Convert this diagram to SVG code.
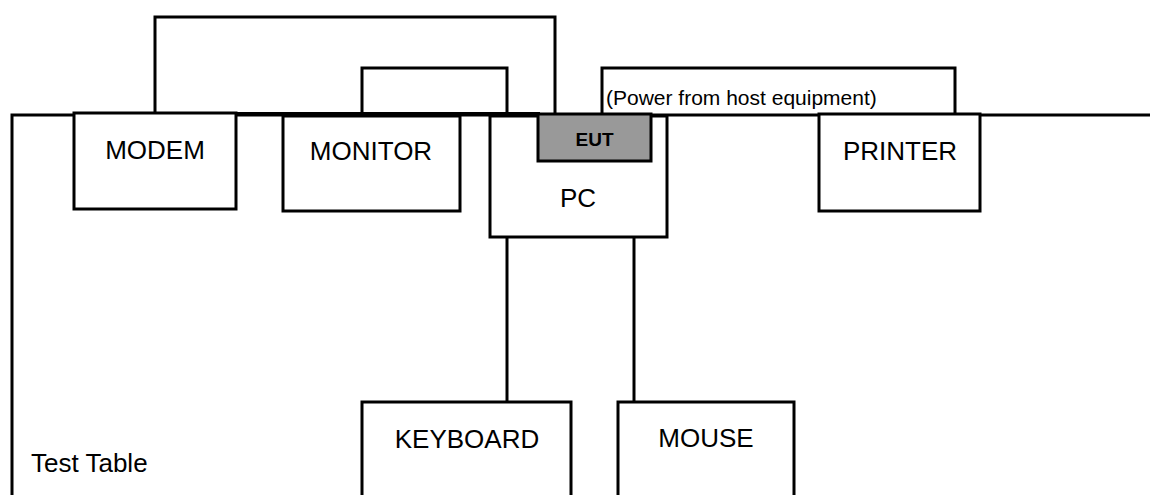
<svg xmlns="http://www.w3.org/2000/svg" width="1150" height="495" viewBox="0 0 1150 495">
<style>
.box{fill:#fff;stroke:#000;stroke-width:3}
.eut{fill:#999;stroke:#000;stroke-width:3}
.w{fill:none;stroke:#000;stroke-width:3}
.t{font-family:"Liberation Sans",Arial,sans-serif;font-size:26px;fill:#000;text-anchor:middle}
</style>
<rect width="1150" height="495" fill="#fff"/>
<g id="table">
<polyline class="w" points="12,495 12,115 1150,115"/>
<text class="t" x="31" y="472" style="text-anchor:start">Test Table</text>
</g>
<g id="connectors">
<polyline class="w" points="155,113 155,17 555,17 555,113"/>
<polyline class="w" points="362,113 362,68 507,68 507,113"/>
<line class="w" x1="74" y1="113.5" x2="540" y2="113.5"/>
<polyline class="w" points="602,114 602,68 955,68 955,114"/>
<line class="w" x1="507" y1="237" x2="507" y2="402"/>
<line class="w" x1="634" y1="237" x2="634" y2="402"/>
</g>
<g id="modem">
<rect class="box" x="74" y="113" width="162" height="96"/>
<text class="t" x="155" y="159">MODEM</text>
</g>
<g id="monitor">
<rect class="box" x="283" y="116" width="177" height="95"/>
<text class="t" x="371" y="160">MONITOR</text>
</g>
<g id="pc">
<rect class="box" x="490" y="116" width="177" height="121"/>
<text class="t" x="578" y="207">PC</text>
</g>
<g id="eut">
<rect class="eut" x="538" y="114" width="113" height="47"/>
<text class="t" x="594.5" y="146" style="font-size:19px;font-weight:bold">EUT</text>
</g>
<g id="power-label">
<text class="t" x="606" y="105" style="text-anchor:start;font-size:21px">(Power from host equipment)</text>
</g>
<g id="printer">
<rect class="box" x="819" y="114" width="161" height="97"/>
<text class="t" x="900" y="160">PRINTER</text>
</g>
<g id="keyboard">
<rect class="box" x="362" y="402" width="209" height="100"/>
<text class="t" x="467" y="448">KEYBOARD</text>
</g>
<g id="mouse">
<rect class="box" x="618" y="402" width="176" height="100"/>
<text class="t" x="706" y="447">MOUSE</text>
</g>
</svg>
